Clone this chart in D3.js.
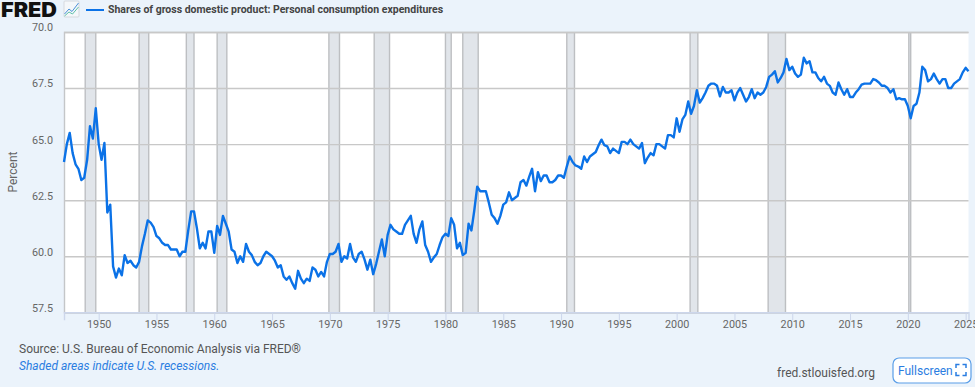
<!DOCTYPE html>
<html>
<head>
<meta charset="utf-8">
<script src="https://cdn.jsdelivr.net/npm/d3@7"></script>
<style>
  html, body { margin: 0; padding: 0; background: #ebf3fb; overflow: hidden; }
  text { font-family: Roboto, sans-serif; }
</style>
</head>
<body>
<div id="chart-area"></div>
<script>
// quarterly values, 1947 Q1 onwards
var shares = [
  64.2,65.0,65.5,64.6,64.1,63.9,63.4,63.5,64.3,65.8,65.25,66.6,65.0,64.3,65.05,61.95,
  62.3,59.55,59.05,59.45,59.15,60.05,59.7,59.8,59.6,59.5,59.75,60.45,61.0,61.6,61.5,61.3,
  60.9,60.8,60.6,60.5,60.5,60.3,60.3,60.3,60.0,60.2,60.2,61.15,62.0,62.0,61.25,60.35,
  60.6,60.35,61.1,61.1,60.15,61.35,60.95,61.8,61.45,61.1,60.3,60.2,59.7,60.0,59.75,60.55,
  60.2,60.05,59.75,59.6,59.7,60.0,60.2,60.1,60.0,59.8,59.5,59.6,59.1,58.95,59.1,58.8,
  58.55,59.35,59.0,58.8,59.0,58.9,59.5,59.4,59.1,59.3,59.1,59.75,60.1,60.1,60.2,60.55,
  59.75,60.0,59.9,60.55,59.95,59.75,60.1,60.2,59.85,59.4,59.85,59.2,59.65,60.2,60.75,60.0,
  60.95,61.4,61.2,61.1,61.0,61.0,61.4,61.6,61.8,61.0,60.6,61.2,61.55,60.5,60.2,59.75,
  59.95,60.1,60.5,60.85,61.0,60.9,61.7,61.4,60.35,60.6,60.05,60.15,61.45,61.15,62.05,63.1,
  62.9,62.9,62.9,62.4,61.85,61.7,61.45,61.8,62.3,62.4,62.85,62.5,62.6,62.7,63.3,63.4,
  63.15,63.55,63.9,62.9,63.75,63.35,63.6,63.6,63.3,63.3,63.4,63.6,63.6,63.5,64.0,64.45,
  64.2,64.05,64.0,63.9,64.45,64.2,64.45,64.55,64.65,64.95,65.2,64.95,64.9,64.6,64.8,64.7,
  64.6,65.1,65.1,65.0,65.2,65.0,64.9,64.8,65.05,64.15,64.4,64.6,64.5,65.0,65.0,64.9,
  64.8,65.4,65.4,65.3,66.15,65.55,66.1,66.3,66.9,66.35,66.7,67.4,66.85,67.05,67.3,67.6,
  67.7,67.7,67.6,67.13,67.55,67.3,67.3,67.4,66.95,67.3,67.5,67.2,66.9,67.1,67.45,67.05,
  67.3,67.2,67.3,67.55,68.0,68.1,68.25,67.75,67.95,68.2,68.8,68.3,68.45,68.15,68.0,68.1,
  68.85,68.6,68.7,68.2,68.2,67.95,67.8,68.0,67.7,67.6,67.3,67.2,67.75,67.45,67.2,67.45,
  67.1,67.1,67.3,67.45,67.65,67.7,67.7,67.7,67.9,67.85,67.75,67.6,67.6,67.5,67.3,67.45,
  67.0,67.05,67.0,67.0,66.7,66.15,66.7,66.8,67.3,68.45,68.3,67.8,67.9,68.15,67.9,67.7,
  67.9,67.9,67.5,67.5,67.7,67.8,67.9,68.2,68.4,68.25
];
var recessionStart = ["1948-11-01","1953-07-01","1957-08-01","1960-04-01","1969-12-01","1973-11-01","1980-01-01","1981-07-01","1990-07-01","2001-03-01","2007-12-01","2020-02-01"];
var recessionEnd = ["1949-10-01","1954-05-01","1958-04-01","1961-02-01","1970-11-01","1975-03-01","1980-07-01","1982-11-01","1991-03-01","2001-11-01","2009-06-01","2020-04-01"];
var yTicks = [57.5, 60, 62.5, 65, 67.5, 70];
var xTickYears = [1950,1955,1960,1965,1970,1975,1980,1985,1990,1995,2000,2005,2010,2015,2020,2025];

var parseDay = d3.timeParse("%Y-%m-%d");
var dates = shares.map((d, i) => new Date(1947, i * 3, 1));

var svg = d3.select("#chart-area")
  .append("svg")
    .attr("width", 975)
    .attr("height", 387)
    .style("display", "block");

var left = 64, right = 968.5, top_ = 32, bottom = 312.3;

var x = d3.scaleTime().domain([dates[0], dates[dates.length - 1]]).range([left, right]);
var y = d3.scaleLinear().domain([57.5, 70]).range([bottom, top_]);

svg.append("rect")
  .attr("x", left).attr("y", top_)
  .attr("width", right - left).attr("height", bottom - top_)
  .style("fill", "#fff");

// recession bands
var bands = svg.append("g");
recessionStart.forEach((s, i) => {
  var x0 = x(parseDay(s)), x1 = x(parseDay(recessionEnd[i]));
  bands.append("rect")
    .attr("x", x0).attr("y", top_)
    .attr("width", x1 - x0).attr("height", bottom - top_)
    .style("fill", "#e1e5ea");
  [x0, x1].forEach((e) => {
    bands.append("line")
      .attr("x1", e).attr("x2", e)
      .attr("y1", top_).attr("y2", bottom)
      .style("stroke", "#bdbfc2")
      .style("stroke-width", 1.4);
  });
});

//leftAxis
var leftAxis = d3.axisLeft(y).tickValues(yTicks).tickSize(-(right - left)).tickFormat(d3.format(".1f"));
var gy = svg.append("g")
  .attr("transform", "translate(" + left + ",0)")
  .call(leftAxis);
gy.select(".domain").style("stroke", "#c4c6c8").style("stroke-width", 1.4);
gy.selectAll("line").style("stroke", "#c8c8c8").style("stroke-width", 1.4);
gy.selectAll("text")
  .attr("x", -11)
  .attr("dy", "-0.1em")
  .style("font-size", "10.8px")
  .style("fill", "#666");

//bottomAxis
var bottomAxis = d3.axisBottom(x)
  .tickValues(xTickYears.map((d) => new Date(d, 0, 1)))
  .tickSize(8)
  .tickFormat(d3.timeFormat("%Y"));
var gx = svg.append("g")
  .attr("transform", "translate(0," + bottom + ")")
  .call(bottomAxis);
gx.select(".domain").style("stroke", "#ccd6eb").style("stroke-width", 1.4);
gx.selectAll("line").style("stroke", "#ccd6eb");
gx.selectAll("text")
  .attr("y", 8)
  .style("font-size", "10.8px")
  .style("fill", "#666");

// series
var line = d3.line().x((d, i) => x(dates[i])).y((d) => y(d));
svg.append("path")
  .datum(shares)
  .attr("d", line)
  .style("fill", "none")
  .style("stroke", "#0b72e7")
  .style("stroke-width", 2.4)
  .style("stroke-linejoin", "round");

// Y Label
svg.append("text")
  .attr("transform", "translate(17,172) rotate(-90)")
  .attr("text-anchor", "middle")
  .style("font-size", "12px")
  .style("fill", "#666")
  .text("Percent");

// header
svg.append("text")
  .attr("x", 1).attr("y", 17.3)
  .attr("textLength", 56)
  .attr("lengthAdjust", "spacingAndGlyphs")
  .style("font-family", "Inter, sans-serif")
  .style("font-size", "20px")
  .style("font-weight", 900)
  .style("fill", "#111")
  .text("FRED");

svg.append("rect")
  .attr("x", 64).attr("y", 1).attr("width", 15).attr("height", 16).attr("rx", 1)
  .style("fill", "#f4f7fa").style("stroke", "#d5d9de");
svg.append("path")
  .attr("d", "M64.5 14L69 9L72 11.5L78.5 3")
  .style("fill", "none").style("stroke", "#4a90d9").style("stroke-width", 1);
svg.append("path")
  .attr("d", "M64.5 16L69 12L72.5 14L78.5 7")
  .style("fill", "none").style("stroke", "#5cc0a8").style("stroke-width", 1);

svg.append("line")
  .attr("x1", 86).attr("x2", 104).attr("y1", 10).attr("y2", 10)
  .style("stroke", "#0b72e7").style("stroke-width", 2);
svg.append("text")
  .attr("x", 108).attr("y", 13)
  .style("font-size", "10.5px")
  .style("font-weight", 700)
  .style("fill", "#444")
  .text("Shares of gross domestic product: Personal consumption expenditures");

// footer
svg.append("text")
  .attr("x", 19).attr("y", 353)
  .style("font-size", "12px")
  .style("fill", "#555")
  .text("Source: U.S. Bureau of Economic Analysis via FRED®");
svg.append("text")
  .attr("x", 19).attr("y", 370)
  .style("font-size", "12px")
  .style("font-style", "italic")
  .style("fill", "#2a7de1")
  .text("Shaded areas indicate U.S. recessions.");
svg.append("text")
  .attr("x", 777).attr("y", 376.5)
  .style("font-size", "12px")
  .style("fill", "#555")
  .text("fred.stlouisfed.org");

// fullscreen button
svg.append("rect")
  .attr("x", 893).attr("y", 358).attr("width", 78).attr("height", 25).attr("rx", 6)
  .style("fill", "#fff").style("stroke", "#5a9ee8").style("stroke-width", 1.2);
svg.append("text")
  .attr("x", 898).attr("y", 374.5)
  .style("font-size", "12px")
  .style("fill", "#2a7de1")
  .text("Fullscreen");
svg.append("path")
  .attr("d", "M956 368v-3.5h3.5M962.5 364.5h3.5v3.5M966 372v3.5h-3.5M959.5 375.5h-3.5v-3.5")
  .style("fill", "none").style("stroke", "#2a7de1").style("stroke-width", 1.5);
</script>
</body>
</html>
